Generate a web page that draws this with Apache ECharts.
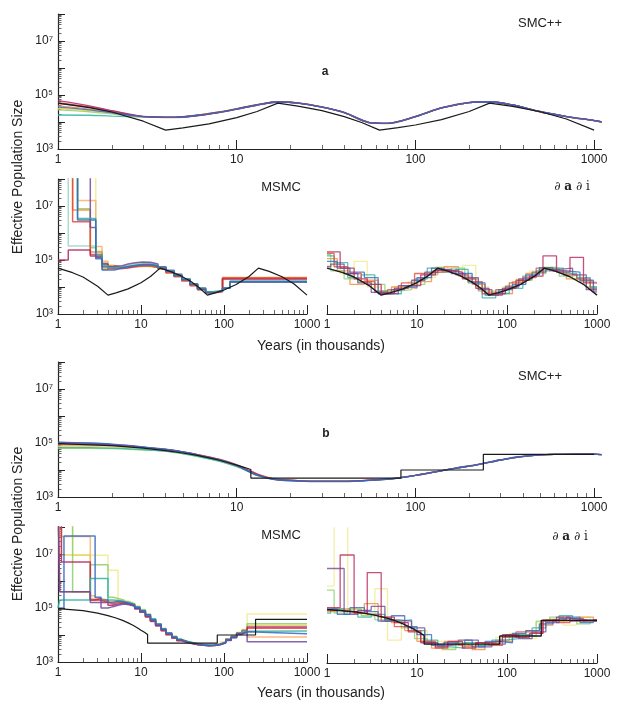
<!DOCTYPE html>
<html><head><meta charset="utf-8">
<script src="https://cdn.jsdelivr.net/npm/echarts@6/dist/echarts.min.js"></script>
<style>html,body{margin:0;padding:0;background:#fff}#c{width:624px;height:711px}</style>
</head><body><div id="c"></div>
<script>
// ---------- DATA (time in thousands of years; sizes stored as log10 of Ne) ----------
// Tick labels
const xMajorTicks = [1, 10, 100, 1000];
const yMajorTicks = [1e3, 1e4, 1e5, 1e6, 1e7, 1e8];
const yLabelTicks = [1e3, 1e5, 1e7];
const yLabelText  = {3:'10³', 5:'10⁵', 7:'10⁷'};

// Panel a : true model (black)
const trueA_t    = [1, 1.5, 2, 3, 4, 5, 7, 10, 13, 17, 22, 30, 40, 50, 63, 80, 100, 140, 200, 260, 350, 500, 700, 1000];
const trueA_logN = [4.7, 4.53, 4.37, 4.03, 3.7, 3.78, 3.93, 4.16, 4.39, 4.7, 4.59, 4.42, 4.2, 3.98, 3.7, 3.79, 3.89, 4.09, 4.39, 4.7, 4.58, 4.38, 4.11, 3.7];

// Panel a : SMC++
const smcA_t       = [1, 1.5, 2, 3, 4.5, 6, 8, 10, 13, 17, 22, 30, 40, 55, 70, 100, 140, 200, 260, 350, 500, 700, 1000, 1100];
const smcA_crimson = [4.79, 4.6, 4.42, 4.21, 4.18, 4.25, 4.37, 4.49, 4.64, 4.75, 4.71, 4.56, 4.36, 3.99, 3.95, 4.2, 4.52, 4.72, 4.75, 4.63, 4.38, 4.2, 4.05, 4.0];
const smcA_red     = [4.72, 4.56, 4.41, 4.2, 4.17, 4.24, 4.36, 4.48, 4.63, 4.74, 4.7, 4.55, 4.35, 3.98, 3.95, 4.2, 4.53, 4.73, 4.75, 4.63, 4.38, 4.2, 4.05, 4.0];
const smcA_orange  = [4.6, 4.48, 4.36, 4.19, 4.16, 4.23, 4.35, 4.47, 4.62, 4.74, 4.71, 4.56, 4.35, 3.98, 3.94, 4.19, 4.52, 4.72, 4.75, 4.62, 4.37, 4.2, 4.05, 4.0];
const smcA_yellow  = [4.5, 4.42, 4.33, 4.2, 4.18, 4.25, 4.37, 4.5, 4.64, 4.75, 4.71, 4.55, 4.34, 3.97, 3.95, 4.2, 4.52, 4.72, 4.75, 4.63, 4.38, 4.2, 4.05, 4.0];
const smcA_green   = [4.45, 4.38, 4.3, 4.19, 4.17, 4.24, 4.36, 4.49, 4.63, 4.74, 4.7, 4.55, 4.35, 3.98, 3.95, 4.21, 4.53, 4.72, 4.75, 4.63, 4.38, 4.2, 4.05, 4.0];
const smcA_teal    = [4.26, 4.25, 4.22, 4.19, 4.17, 4.25, 4.37, 4.49, 4.64, 4.75, 4.7, 4.55, 4.35, 3.98, 3.95, 4.2, 4.52, 4.72, 4.75, 4.63, 4.38, 4.2, 4.05, 4.0];
const smcA_purple  = [4.69, 4.54, 4.38, 4.2, 4.17, 4.24, 4.36, 4.48, 4.63, 4.74, 4.7, 4.55, 4.35, 3.98, 3.95, 4.2, 4.52, 4.72, 4.75, 4.63, 4.39, 4.21, 4.06, 4.01];
const smcA_blue    = [4.55, 4.45, 4.34, 4.2, 4.17, 4.24, 4.36, 4.48, 4.63, 4.74, 4.7, 4.55, 4.35, 3.98, 3.95, 4.2, 4.52, 4.72, 4.75, 4.63, 4.38, 4.2, 4.05, 4.0];

// Panel a : MSMC (value of each epoch starting at msmcA_t[i])
const msmcA_t           = [1, 1.33, 1.5, 1.72, 2.45, 2.85, 3.4, 4, 4.8, 5.8, 7, 8.5, 10.5, 13, 16, 20, 25, 31, 39, 48, 60, 75, 96, 118, 1000];
const msmcA_crimson     = [5.0, 5.37, 5.37, 5.37, 5.15, 5.15, 4.85, 4.75, 4.7, 4.72, 4.78, 4.82, 4.83, 4.78, 4.7, 4.58, 4.44, 4.28, 4.1, 3.93, 3.8, 3.84, 4.3, 4.3];
const msmcA_red         = [9, 9, 6.42, 6.42, 5.2, 5.2, 4.85, 4.68, 4.68, 4.7, 4.75, 4.78, 4.78, 4.72, 4.65, 4.52, 4.38, 4.22, 4.05, 3.9, 3.78, 3.82, 4.33, 4.33];
const msmcA_orange      = [9, 9, 6.85, 6.85, 5.3, 5.3, 4.65, 4.8, 4.72, 4.74, 4.76, 4.8, 4.78, 4.74, 4.66, 4.54, 4.4, 4.24, 4.06, 3.9, 3.8, 3.85, 4.35, 4.35];
const msmcA_lightorange = [9, 9, 9, 7.2, 7.2, 5.5, 4.95, 4.78, 4.75, 4.78, 4.82, 4.86, 4.85, 4.8, 4.72, 4.6, 4.46, 4.3, 4.12, 3.95, 3.82, 3.86, 4.3, 4.3];
const msmcA_yellow      = [9, 9, 9, 9, 9, 5.35, 4.9, 4.8, 4.78, 4.8, 4.85, 4.88, 4.86, 4.8, 4.72, 4.6, 4.46, 4.3, 4.12, 3.96, 3.83, 3.86, 4.28, 4.28];
const msmcA_green       = [9, 9, 9, 6.9, 5.45, 5.1, 4.7, 4.72, 4.72, 4.75, 4.75, 4.76, 4.76, 4.72, 4.65, 4.55, 4.42, 4.26, 4.08, 3.92, 3.8, 3.84, 4.32, 4.32];
const msmcA_mint        = [9, 5.52, 5.52, 5.52, 5.52, 5.3, 4.9, 4.76, 4.75, 4.8, 4.86, 4.9, 4.88, 4.82, 4.73, 4.6, 4.45, 4.3, 4.12, 3.95, 3.82, 3.85, 3.95, 4.22];
const msmcA_teal        = [9, 9, 9, 6.54, 6.54, 5.2, 4.8, 4.72, 4.7, 4.75, 4.8, 4.84, 4.84, 4.8, 4.72, 4.6, 4.45, 4.3, 4.12, 3.95, 3.82, 3.86, 3.95, 4.2];
const msmcA_purple      = [9, 9, 9, 9, 6.2, 5.1, 4.75, 4.7, 4.78, 4.85, 4.9, 4.93, 4.92, 4.85, 4.75, 4.62, 4.47, 4.3, 4.12, 3.95, 3.81, 3.85, 3.96, 4.18];
const msmcA_blue        = [9, 9, 9, 6.48, 6.48, 5.05, 4.63, 4.63, 4.7, 4.76, 4.8, 4.82, 4.82, 4.78, 4.7, 4.57, 4.42, 4.27, 4.1, 3.93, 3.8, 3.85, 3.95, 4.2];

// Epoch boundaries of the dadi replicates
const dadi_t1 = [1, 1.4, 2, 2.8, 4, 5.6, 8, 11, 16, 22, 32, 45, 63, 89, 126, 178, 251, 355, 501, 708, 1000];
const dadi_t2 = [1, 1.2, 1.7, 2.4, 3.4, 4.7, 6.7, 9.4, 13, 19, 27, 37, 53, 75, 106, 150, 211, 298, 422, 596, 841, 1000];
const dadi_t3 = [1, 1.3, 1.8, 2.6, 3.7, 5.2, 7.3, 10, 14.5, 20, 29, 41, 57, 81, 115, 162, 229, 324, 457, 646, 912, 1000];
const dadi_t4 = [1, 1.1, 1.55, 2.2, 3.1, 4.4, 6.2, 8.7, 12.2, 17, 24, 34, 48, 68, 96, 135, 190, 270, 380, 535, 760, 1000];

// Panel a : dadi
const dadiA_crimson = [5.3, 4.7, 4.3, 4.1, 3.75, 3.95, 4.05, 4.45, 4.62, 4.55, 4.3, 3.95, 3.7, 3.95, 4.25, 4.4, 5.15, 4.55, 5.1, 4.15];
const dadiA_yellow  = [4.8, 4.5, 4.95, 4.0, 3.85, 4.0, 4.2, 4.35, 4.75, 4.6, 4.8, 4.0, 3.8, 4.0, 4.3, 4.6, 4.75, 4.6, 4.4, 4.2];
const dadiA_red     = [5.25, 4.75, 4.5, 4.2, 3.8, 3.9, 4.15, 4.5, 4.55, 4.6, 4.45, 4.2, 3.75, 3.9, 4.15, 4.35, 4.7, 4.6, 4.45, 4.3, 3.95];
const dadiA_teal    = [5.15, 4.9, 4.35, 4.45, 3.85, 3.75, 4.05, 4.3, 4.7, 4.55, 4.65, 4.15, 3.6, 3.75, 3.95, 4.4, 4.6, 4.7, 4.5, 4.35, 4.0];
const dadiA_orange  = [5.05, 4.6, 4.1, 4.25, 3.85, 4.0, 3.95, 4.2, 4.6, 4.75, 4.4, 4.1, 3.8, 3.75, 4.2, 4.5, 4.65, 4.6, 4.3, 4.2, 3.8];
const dadiA_blue    = [4.95, 4.7, 4.55, 4.35, 3.75, 3.9, 4.0, 4.35, 4.7, 4.62, 4.5, 4.15, 3.7, 3.9, 4.1, 4.45, 4.72, 4.6, 4.55, 4.25, 3.85];
const dadiA_purple  = [4.75, 4.85, 4.5, 4.15, 3.8, 3.75, 4.05, 4.25, 4.55, 4.65, 4.5, 4.35, 3.9, 3.75, 4.0, 4.3, 4.55, 4.65, 4.7, 4.45, 3.9];
const dadiA_green   = [5.2, 4.6, 4.3, 4.2, 4.1, 3.85, 3.9, 4.1, 4.45, 4.6, 4.7, 4.3, 3.85, 3.85, 4.05, 4.25, 4.5, 4.7, 4.4, 4.3, 4.0];

// Panel b : true model (black)
const trueB_t    = [1, 2, 3, 4, 5, 6, 7, 8, 9, 10, 11, 12, 12, 83, 83, 240, 240, 1000];
const trueB_logN = [4.98, 4.9, 4.81, 4.72, 4.63, 4.54, 4.45, 4.36, 4.27, 4.18, 4.1, 4.02, 3.7, 3.7, 4.0, 4.0, 4.58, 4.58];

// Panel b : SMC++
const smcB_t       = [1, 1.5, 2, 3, 4, 5, 6, 8, 10, 12, 13, 15, 17, 22, 29, 40, 50, 65, 80, 100, 134, 170, 224, 300, 374, 500, 625, 800, 1000, 1100];
const smcB_green   = [4.8, 4.8, 4.79, 4.74, 4.69, 4.6, 4.5, 4.32, 4.12, 3.9, 3.8, 3.7, 3.64, 3.6, 3.59, 3.59, 3.6, 3.64, 3.7, 3.8, 3.95, 4.07, 4.2, 4.37, 4.48, 4.56, 4.58, 4.59, 4.59, 4.57];
const smcB_teal    = [4.83, 4.83, 4.81, 4.76, 4.7, 4.61, 4.51, 4.33, 4.13, 3.9, 3.8, 3.69, 3.63, 3.59, 3.58, 3.58, 3.6, 3.64, 3.7, 3.8, 3.95, 4.07, 4.2, 4.37, 4.48, 4.56, 4.58, 4.59, 4.59, 4.57];
const smcB_yellow  = [4.88, 4.87, 4.86, 4.8, 4.74, 4.65, 4.55, 4.37, 4.17, 3.93, 3.84, 3.72, 3.65, 3.61, 3.6, 3.6, 3.61, 3.65, 3.71, 3.8, 3.95, 4.07, 4.2, 4.37, 4.48, 4.56, 4.58, 4.59, 4.59, 4.57];
const smcB_orange  = [4.93, 4.92, 4.9, 4.83, 4.76, 4.67, 4.58, 4.4, 4.2, 3.96, 3.86, 3.73, 3.66, 3.61, 3.6, 3.6, 3.61, 3.65, 3.71, 3.8, 3.95, 4.07, 4.2, 4.37, 4.48, 4.56, 4.58, 4.59, 4.59, 4.57];
const smcB_crimson = [4.98, 4.96, 4.93, 4.84, 4.76, 4.67, 4.57, 4.39, 4.19, 3.95, 3.85, 3.72, 3.65, 3.61, 3.59, 3.59, 3.61, 3.65, 3.71, 3.8, 3.95, 4.07, 4.2, 4.37, 4.48, 4.56, 4.58, 4.59, 4.59, 4.57];
const smcB_purple  = [5.02, 4.99, 4.95, 4.85, 4.76, 4.66, 4.56, 4.37, 4.16, 3.91, 3.81, 3.69, 3.63, 3.59, 3.57, 3.57, 3.6, 3.64, 3.7, 3.8, 3.95, 4.08, 4.21, 4.38, 4.49, 4.56, 4.58, 4.59, 4.59, 4.57];
const smcB_blue    = [5.03, 5.0, 4.96, 4.86, 4.77, 4.67, 4.57, 4.38, 4.17, 3.92, 3.82, 3.7, 3.64, 3.6, 3.58, 3.58, 3.6, 3.64, 3.7, 3.8, 3.95, 4.07, 4.2, 4.37, 4.48, 4.56, 4.58, 4.59, 4.59, 4.57];

// Panel b : MSMC
const msmcB_t           = [1, 1.05, 1.1, 1.18, 1.5, 2.45, 2.8, 3.3, 4, 4.6, 5.3, 6.2, 7.2, 8.4, 9.7, 11.3, 13, 15, 17.5, 20, 23.5, 27, 31, 36, 42, 49, 57, 66, 77, 90, 105, 122, 142, 165, 190, 1000];
const msmcB_paleyellow  = [9, 9, 9, 9, 6.95, 6.95, 6.95, 6.95, 6.4, 6.4, 5.3, 5.25, 5.18, 5.08, 4.95, 4.78, 4.6, 4.42, 4.24, 4.08, 3.95, 3.84, 3.77, 3.72, 3.68, 3.65, 3.63, 3.63, 3.67, 3.75, 3.86, 3.97, 4.1, 4.2, 4.78];
const msmcB_green       = [9, 9, 9, 9, 5.6, 6.6, 6.6, 6.6, 5.4, 5.35, 5.3, 5.22, 5.15, 5.05, 4.92, 4.76, 4.6, 4.42, 4.24, 4.08, 3.95, 3.85, 3.77, 3.72, 3.68, 3.65, 3.63, 3.63, 3.67, 3.74, 3.85, 3.96, 4.08, 4.18, 4.42];
const msmcB_yellow      = [9, 9, 6.96, 6.96, 6.96, 5.35, 5.3, 5.25, 5.25, 5.28, 5.24, 5.18, 5.12, 5.02, 4.9, 4.74, 4.56, 4.38, 4.2, 4.05, 3.92, 3.82, 3.75, 3.7, 3.66, 3.63, 3.62, 3.62, 3.66, 3.72, 3.83, 3.93, 4.06, 4.18, 4.35];
const msmcB_lightorange = [9, 7.65, 7.65, 7.65, 7.65, 5.45, 5.35, 5.3, 5.22, 5.25, 5.2, 5.15, 5.1, 5.0, 4.86, 4.7, 4.52, 4.35, 4.18, 4.03, 3.9, 3.8, 3.74, 3.69, 3.65, 3.62, 3.62, 3.63, 3.67, 3.74, 3.85, 3.95, 4.08, 4.18, 3.93];
const msmcB_red         = [9, 5.6, 5.6, 5.6, 5.6, 5.3, 5.28, 5.22, 5.15, 5.2, 5.2, 5.14, 5.08, 4.97, 4.84, 4.67, 4.5, 4.33, 4.15, 4.0, 3.88, 3.79, 3.72, 3.68, 3.64, 3.62, 3.61, 3.62, 3.66, 3.73, 3.84, 3.94, 4.07, 4.17, 4.25];
const msmcB_crimson     = [9, 9, 6.7, 6.7, 6.7, 5.3, 5.35, 5.2, 5.1, 5.15, 5.18, 5.15, 5.08, 4.98, 4.85, 4.68, 4.52, 4.35, 4.18, 4.03, 3.9, 3.8, 3.73, 3.68, 3.64, 3.62, 3.6, 3.61, 3.64, 3.7, 3.8, 3.9, 4.02, 4.1, 4.3];
const msmcB_teal        = [5.0, 5.3, 5.3, 5.3, 5.3, 6.09, 6.09, 6.09, 5.3, 5.28, 5.25, 5.2, 5.14, 5.04, 4.92, 4.76, 4.58, 4.4, 4.22, 4.06, 3.93, 3.83, 3.76, 3.71, 3.67, 3.64, 3.62, 3.62, 3.66, 3.72, 3.82, 3.92, 4.04, 4.14, 4.15];
const msmcB_purple      = [9, 5.6, 5.6, 5.6, 5.6, 5.2, 5.2, 5.0, 5.05, 5.1, 5.15, 5.12, 5.06, 4.97, 4.85, 4.7, 4.53, 4.36, 4.19, 4.04, 3.91, 3.81, 3.74, 3.69, 3.65, 3.62, 3.6, 3.61, 3.65, 3.71, 3.81, 3.91, 4.03, 4.1, 3.75];
const msmcB_blue        = [5.0, 5.0, 5.0, 7.67, 7.67, 7.67, 5.4, 5.3, 5.2, 5.25, 5.22, 5.18, 5.12, 5.03, 4.9, 4.75, 4.57, 4.4, 4.22, 4.07, 3.93, 3.83, 3.76, 3.7, 3.66, 3.63, 3.61, 3.62, 3.65, 3.72, 3.82, 3.93, 4.05, 4.12, 4.05];

// Panel b : dadi
const dadiB_crimson = [5.05, 7.0, 4.85, 6.35, 4.7, 4.5, 4.15, 3.75, 3.6, 3.8, 3.55, 3.75, 3.8, 4.05, 3.95, 4.1, 4.55, 4.7, 4.55, 4.6];
const dadiB_red     = [4.95, 4.9, 4.95, 4.8, 4.55, 4.35, 4.2, 3.8, 3.55, 3.7, 3.6, 3.75, 3.65, 3.95, 4.15, 4.1, 4.6, 4.5, 4.65, 4.55];
const dadiB_yellow  = [5.85, 8.2, 5.0, 4.8, 5.75, 3.85, 4.35, 4.2, 3.8, 3.55, 3.85, 3.6, 3.75, 3.95, 4.1, 3.9, 4.5, 4.65, 4.4, 4.7, 4.55];
const dadiB_green   = [5.7, 4.85, 5.0, 4.75, 4.6, 4.55, 4.3, 3.9, 3.7, 3.5, 3.75, 3.65, 3.7, 3.85, 4.05, 4.0, 4.55, 4.7, 4.6, 4.45, 4.6];
const dadiB_blue    = [5.0, 4.8, 5.05, 4.9, 4.55, 4.75, 4.35, 4.05, 3.65, 3.75, 3.85, 3.6, 3.8, 3.75, 4.1, 4.2, 4.45, 4.6, 4.7, 4.5, 4.6];
const dadiB_orange  = [4.9, 5.0, 4.85, 5.2, 4.7, 4.5, 4.2, 3.8, 3.55, 3.8, 3.65, 3.5, 3.7, 3.8, 3.95, 4.2, 4.4, 4.55, 4.6, 4.7, 4.55];
const dadiB_purple  = [6.5, 6.5, 4.8, 4.95, 5.1, 4.6, 4.55, 4.3, 3.75, 3.65, 3.7, 3.85, 3.6, 3.7, 4.05, 3.9, 4.15, 4.5, 4.65, 4.6, 4.55];
const dadiB_teal    = [4.85, 5.0, 4.9, 4.7, 4.8, 4.55, 4.6, 4.2, 3.85, 3.6, 3.55, 3.75, 3.65, 3.85, 3.9, 4.05, 4.3, 4.6, 4.75, 4.6, 4.55];

// ---------- BUILD ----------
const FONT = '"Liberation Sans", Arial, sans-serif';
const SERIF = '"DejaVu Serif", "Liberation Serif", serif';
const C = {
  crimson:'#b8235a', red:'#e2493b', orange:'#f08c3a', lightorange:'#f6b26b',
  yellow:'#eccf55', paleyellow:'#f1ea8e', green:'#8ccf6b', teal:'#2fb3a3',
  mint:'#9ad6c4', blue:'#3569c0', purple:'#6d4a9e', black:'#1a1a1a'
};
const toN = v => Math.pow(10, v);
const pts = (t, lv) => t.map((x, i) => [x, toN(lv[Math.min(i, lv.length - 1)])]);

const grids = [
  {left:58,  top:14,  width:543.5, height:135},
  {left:58,  top:179, width:249,   height:135},
  {left:327, top:179, width:270,   height:135},
  {left:58,  top:362, width:543.5, height:135},
  {left:58,  top:527, width:249,   height:135},
  {left:327, top:528, width:270,   height:135}
];
const xMinor = [], yMinor = [];
[1, 10, 100].forEach(d => [2,3,4,5,6,7,8,9].forEach(m => xMinor.push(m * d)));
[1e3, 1e4, 1e5, 1e6, 1e7].forEach(d => [2,3,4,5,6,7,8,9].forEach(m => yMinor.push(m * d)));

const xAxes = [], yAxes = [];
grids.forEach((g, i) => {
  const xmax = (i === 0 || i === 3) ? 1100 : 1000;
  const showY = !(i === 2 || i === 5);
  xAxes.push({gridIndex:i, type:'log', logBase:10, min:1, max:xmax, position:'bottom',
    axisLine:{show:true, onZero:false, lineStyle:{color:'#222', width:1.2}},
    axisTick:{show:true, inside:true, length:9, customValues:xMajorTicks, lineStyle:{color:'#222', width:1}},
    axisLabel:{show:true, customValues:xMajorTicks, formatter:v => String(Math.round(v)), fontSize:12, color:'#222', margin:5, fontFamily:FONT},
    splitLine:{show:false}, minorTick:{show:false}, minorSplitLine:{show:false}});
  xAxes.push({gridIndex:i, type:'log', logBase:10, min:1, max:xmax, position:'bottom',
    axisLine:{show:false, onZero:false},
    axisTick:{show:true, inside:true, length:4, customValues:xMinor, lineStyle:{color:'#444', width:0.8}},
    axisLabel:{show:false}, splitLine:{show:false}});
  yAxes.push({gridIndex:i, type:'log', logBase:10, min:1e3, max:1e8, position:'left', show:showY,
    axisLine:{show:true, onZero:false, lineStyle:{color:'#222', width:1.2}},
    axisTick:{show:true, inside:true, length:7, customValues:yMajorTicks, lineStyle:{color:'#222', width:1}},
    axisLabel:{show:true, customValues:yLabelTicks, margin:5, color:'#222', fontSize:12, fontFamily:FONT,
      formatter:v => yLabelText[Math.round(Math.log10(v))] || ''},
    splitLine:{show:false}});
  yAxes.push({gridIndex:i, type:'log', logBase:10, min:1e3, max:1e8, position:'left', show:showY,
    axisLine:{show:false, onZero:false},
    axisTick:{show:true, inside:true, length:3.5, customValues:yMinor, lineStyle:{color:'#444', width:0.8}},
    axisLabel:{show:false}, splitLine:{show:false}});
});

const series = [];
function add(gi, data, color, o) {
  o = o || {};
  series.push({type:'line', xAxisIndex:gi * 2, yAxisIndex:gi * 2, data:data,
    showSymbol:false, symbol:'none', step:o.step || false, smooth:o.smooth || false,
    lineStyle:{color:color, width:o.w || 1.4, opacity:o.op == null ? 0.85 : o.op},
    z:o.z || 2, silent:true, animation:false, clip:true});
}
// Panel a SMC++
[[smcA_teal,C.teal],[smcA_green,C.green],[smcA_yellow,C.yellow],[smcA_orange,C.orange],[smcA_red,C.red],
 [smcA_crimson,C.crimson],[smcA_purple,C.purple],[smcA_blue,C.blue]]
  .forEach(s => add(0, pts(smcA_t, s[0]), s[1], {smooth:0.3, w:1.3}));
add(0, pts(trueA_t, trueA_logN), C.black, {w:1.2, op:1, z:5});
// Panel a MSMC
[[msmcA_yellow,C.paleyellow],[msmcA_lightorange,C.lightorange],[msmcA_mint,C.mint],[msmcA_green,C.green],
 [msmcA_orange,C.orange],[msmcA_red,C.red],[msmcA_crimson,C.crimson],[msmcA_purple,C.purple],
 [msmcA_teal,C.teal],[msmcA_blue,C.blue]]
  .forEach(s => add(1, pts(msmcA_t, s[0]), s[1], {step:'end', w:1.5}));
add(1, pts(trueA_t, trueA_logN), C.black, {w:1.2, op:1, z:5});
// Panel a dadi
[[dadiA_yellow,dadi_t1,C.paleyellow],[dadiA_orange,dadi_t3,C.orange],[dadiA_green,dadi_t4,C.green],
 [dadiA_teal,dadi_t2,C.teal],[dadiA_red,dadi_t2,C.red],[dadiA_purple,dadi_t4,C.purple],
 [dadiA_blue,dadi_t3,C.blue],[dadiA_crimson,dadi_t1,C.crimson]]
  .forEach(s => add(2, pts(s[1], s[0]), s[2], {step:'end', w:1.3, op:0.8}));
add(2, pts(trueA_t, trueA_logN), C.black, {w:1.4, op:1, z:5});
// Panel b SMC++
[[smcB_yellow,C.yellow],[smcB_orange,C.orange],[smcB_green,C.green],[smcB_teal,C.teal],
 [smcB_crimson,C.crimson],[smcB_purple,C.purple],[smcB_blue,C.blue]]
  .forEach(s => add(3, pts(smcB_t, s[0]), s[1], {smooth:0.3, w:1.3}));
add(3, pts(trueB_t, trueB_logN), C.black, {w:1.2, op:1, z:5});
// Panel b MSMC
[[msmcB_paleyellow,C.paleyellow],[msmcB_yellow,C.yellow],[msmcB_lightorange,C.lightorange],[msmcB_green,C.green],
 [msmcB_red,C.red],[msmcB_crimson,C.crimson],[msmcB_teal,C.teal],[msmcB_purple,C.purple],[msmcB_blue,C.blue]]
  .forEach(s => add(4, pts(msmcB_t, s[0]), s[1], {step:'end', w:1.5}));
add(4, pts(trueB_t, trueB_logN), C.black, {w:1.2, op:1, z:5});
// Panel b dadi
[[dadiB_yellow,dadi_t2,C.paleyellow],[dadiB_green,dadi_t2,C.green],[dadiB_orange,dadi_t3,C.orange],
 [dadiB_teal,dadi_t4,C.teal],[dadiB_red,dadi_t1,C.red],[dadiB_purple,dadi_t4,C.purple],
 [dadiB_blue,dadi_t3,C.blue],[dadiB_crimson,dadi_t1,C.crimson]]
  .forEach(s => add(5, pts(s[1], s[0]), s[2], {step:'end', w:1.3, op:0.8}));
add(5, pts(trueB_t, trueB_logN), C.black, {w:1.4, op:1, z:5});

function txt(x, y, text, size, extra) {
  const st = Object.assign({text:text, fill:'#222', fontSize:size, fontFamily:FONT,
    align:'center', verticalAlign:'middle', textAlign:'center', textVerticalAlign:'middle'}, extra || {});
  return {type:'text', x:x, y:y, silent:true, z:10, style:st};
}
function dadiTitle(x, y) {
  return txt(x, y, '∂ {b|a} ∂ i', 12, {fontFamily:SERIF, rich:{b:{fontWeight:'bold', fontSize:12, fontFamily:SERIF, fill:'#222'}}});
}
const ylab = (y) => Object.assign(txt(18, y, 'Effective Population Size', 14), {rotation:Math.PI / 2});

const graphic = [
  txt(540, 23, 'SMC++', 13),
  txt(325, 72, 'a', 12, {fontWeight:'bold'}),
  txt(281, 187, 'MSMC', 13),
  dadiTitle(572, 187),
  txt(321, 346, 'Years (in thousands)', 14),
  ylab(177),
  txt(540, 376, 'SMC++', 13),
  txt(326, 434, 'b', 12, {fontWeight:'bold'}),
  txt(281, 535, 'MSMC', 13),
  dadiTitle(570, 537),
  txt(321, 693, 'Years (in thousands)', 14),
  ylab(524)
];

const chart = echarts.init(document.getElementById('c'), null, {renderer:'canvas'});
chart.setOption({
  animation:false,
  backgroundColor:'#ffffff',
  grid:grids.map(g => Object.assign({containLabel:false, outerBoundsMode:'none'}, g)),
  xAxis:xAxes, yAxis:yAxes, series:series, graphic:graphic
});
</script></body></html>
